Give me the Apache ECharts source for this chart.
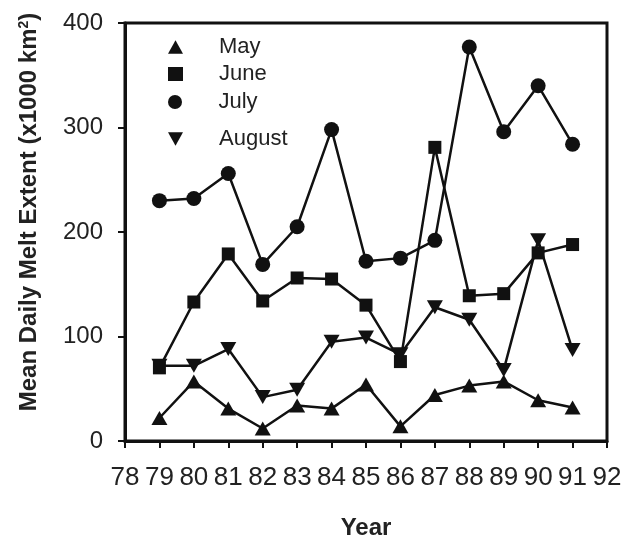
<!DOCTYPE html>
<html>
<head>
<meta charset="utf-8">
<script src="https://cdn.jsdelivr.net/npm/echarts@6/dist/echarts.min.js"></script>
<style>
html,body{margin:0;padding:0;background:#ffffff;}
#c{width:636px;height:545px;}
</style>
</head>
<body>
<div id="c"></div>
<script>
var years = [79, 80, 81, 82, 83, 84, 85, 86, 87, 88, 89, 90, 91];
var may    = [22, 57, 31, 12, 34, 31, 54, 14, 44, 53, 57, 39, 32];
var june   = [70, 133, 179, 134, 156, 155, 130, 76, 281, 139, 141, 180, 188];
var july   = [230, 232, 256, 169, 205, 298, 172, 175, 192, 377, 296, 340, 284];
var august = [72, 72, 88, 42, 49, 95, 99, 83, 128, 116, 68, 192, 87];
var seriesNames = ['May', 'June', 'July', 'August'];
var yTicks = [0, 100, 200, 300, 400];

var downTri = 'path://M0,0 L10,0 L5,9 Z';
var upTri = 'path://M5,0 L10,9 L0,9 Z';

function pairs(vals) { return years.map(function (y, i) { return [y, vals[i]]; }); }

var symbols = {May: upTri, June: 'rect', July: 'circle', August: downTri};
var sizes = {May: [16, 14], June: 13, July: 15, August: [16, 14]};
var legendIcons = {May: upTri, June: 'rect', July: 'circle', August: downTri};
var legendTops = [36, 63, 91, 128];
var allVals = {May: may, June: june, July: july, August: august};

var chart = echarts.init(document.getElementById('c'));
var font = 'Liberation Sans, Arial, Helvetica, sans-serif';
chart.setOption({
  backgroundColor: '#ffffff',
  animation: false,
  grid: {left: 125, right: 29, top: 23, bottom: 103, show: true, borderColor: '#111', borderWidth: 3, backgroundColor: 'transparent'},
  legend: seriesNames.map(function (n, i) {
    return {
      data: [{name: n, icon: legendIcons[n]}],
      left: 168, top: legendTops[i], padding: 0,
      itemWidth: 15, itemHeight: 14,
      textStyle: {fontFamily: font, fontSize: 22, color: '#222', padding: [0, 0, 0, 31]},
      selectedMode: false
    };
  }),
  xAxis: {
    type: 'value', min: 78, max: 92, interval: 1,
    name: 'Year', nameLocation: 'middle', nameGap: 75,
    nameTextStyle: {fontFamily: font, fontSize: 24, fontWeight: 'bold', color: '#222'},
    axisLine: {show: true, lineStyle: {color: '#111', width: 3}},
    axisTick: {show: true, inside: false, length: 7, lineStyle: {color: '#111', width: 2}},
    axisLabel: {fontFamily: font, fontSize: 26, color: '#222', margin: 24},
    splitLine: {show: false}
  },
  yAxis: {
    type: 'value', min: yTicks[0], max: yTicks[yTicks.length - 1], interval: 100,
    name: '{n|Mean Daily Melt Extent (x1000 km}{s|2}{n|)}', nameLocation: 'middle', nameGap: 84, nameRotate: 90,
    nameTextStyle: {
      fontFamily: font, fontSize: 24, fontWeight: 'bold', color: '#222',
      padding: [0, 0, 0, 40],
      rich: {
        n: {fontFamily: font, fontSize: 24, fontWeight: 'bold', color: '#222'},
        s: {fontFamily: font, fontSize: 14, fontWeight: 'bold', color: '#222', verticalAlign: 'top', padding: [0, 0, 10, 0]}
      }
    },
    axisLine: {show: true, lineStyle: {color: '#111', width: 3}},
    axisTick: {show: true, inside: false, length: 7, lineStyle: {color: '#111', width: 2}},
    axisLabel: {fontFamily: font, fontSize: 24, color: '#222', margin: 22},
    splitLine: {show: false}
  },
  series: seriesNames.map(function (n) {
    return {
      name: n, type: 'line', data: pairs(allVals[n]),
      symbol: symbols[n], symbolSize: sizes[n], showAllSymbol: true,
      lineStyle: {color: '#111', width: 2.5},
      itemStyle: {color: '#111', borderWidth: 0},
      color: '#111'
    };
  })
});
</script>
</body>
</html>
